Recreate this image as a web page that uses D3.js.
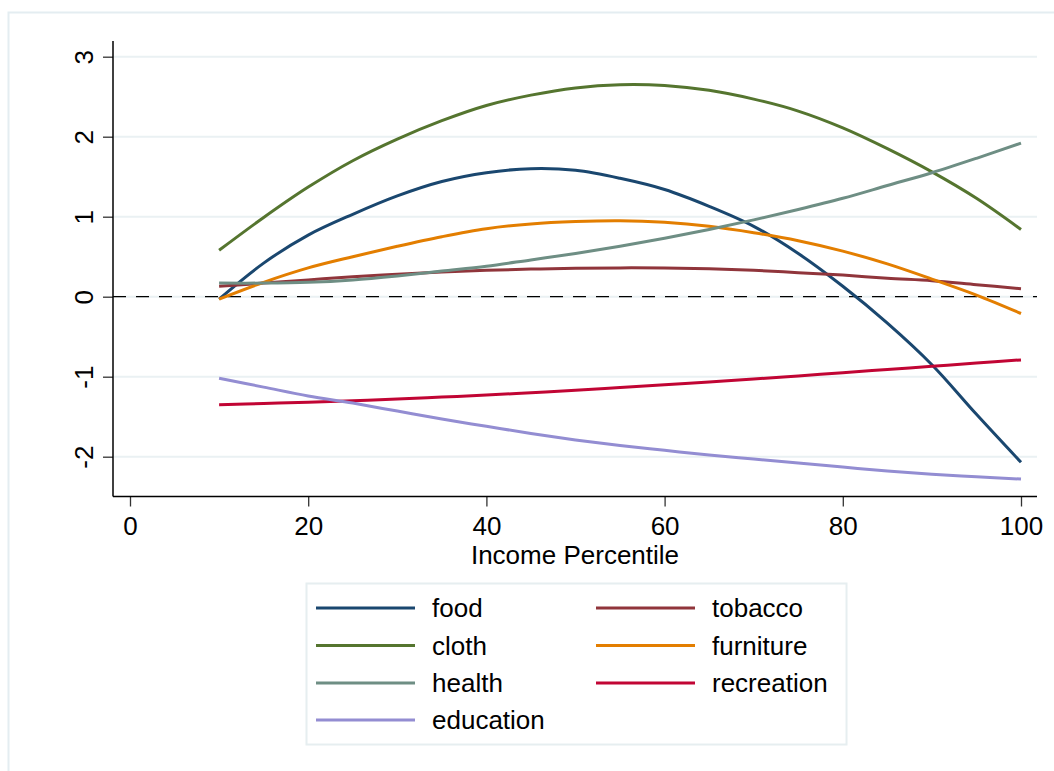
<!DOCTYPE html>
<html>
<head>
<meta charset="utf-8">
<script src="https://cdn.jsdelivr.net/npm/d3@7"></script>
<style>
  body { margin: 0; background: #fff; }
  svg { display: block; font-family: "Liberation Sans", Arial, sans-serif; }
</style>
</head>
<body>
<svg id="chart"></svg>
<script>
// income percentile grid
var pct = [10, 15, 20, 25, 30, 35, 40, 45, 50, 55, 60, 65, 70, 75, 80, 85, 90, 95, 100];

var food       = [-0.03, 0.42, 0.77, 1.03, 1.26, 1.44, 1.55, 1.60, 1.58, 1.48, 1.34, 1.13, 0.88, 0.54, 0.13, -0.33, -0.85, -1.47, -2.07];
var tobacco    = [0.13, 0.17, 0.21, 0.25, 0.28, 0.31, 0.33, 0.345, 0.355, 0.36, 0.36, 0.35, 0.33, 0.30, 0.27, 0.23, 0.20, 0.15, 0.10];
var cloth      = [0.58, 0.99, 1.37, 1.70, 1.97, 2.20, 2.39, 2.52, 2.61, 2.65, 2.64, 2.58, 2.47, 2.32, 2.11, 1.85, 1.56, 1.23, 0.84];
var furniture  = [-0.03, 0.18, 0.36, 0.50, 0.63, 0.75, 0.85, 0.91, 0.94, 0.95, 0.93, 0.88, 0.80, 0.70, 0.57, 0.41, 0.22, 0.02, -0.21];
var health     = [0.17, 0.17, 0.18, 0.21, 0.26, 0.32, 0.38, 0.46, 0.54, 0.63, 0.73, 0.84, 0.96, 1.09, 1.23, 1.39, 1.55, 1.73, 1.92];
var recreation = [-1.35, -1.335, -1.32, -1.30, -1.28, -1.255, -1.23, -1.20, -1.17, -1.135, -1.10, -1.065, -1.03, -0.99, -0.95, -0.91, -0.87, -0.83, -0.79];
var education  = [-1.02, -1.13, -1.24, -1.33, -1.43, -1.53, -1.62, -1.71, -1.79, -1.86, -1.92, -1.98, -2.03, -2.08, -2.13, -2.18, -2.22, -2.25, -2.28];

var seriesNames  = ["food", "tobacco", "cloth", "furniture", "health", "recreation", "education"];
var seriesValues = [food, tobacco, cloth, furniture, health, recreation, education];
var seriesColors = ["#1a476f", "#90353b", "#55752f", "#e37e00", "#6e8e84", "#c10534", "#938dd2"];

var xTicks = [0, 20, 40, 60, 80, 100];
var yTicks = [-2, -1, 0, 1, 2, 3];

var W = 1054, H = 771;
var svg = d3.select("#chart").attr("width", W).attr("height", H);

// outer frame (runs off the right/bottom edge like the source)
svg.append("rect")
  .attr("x", 8.5).attr("y", 12.5)
  .attr("width", W + 20).attr("height", H + 20)
  .attr("fill", "#fff")
  .attr("stroke", "#e4edf1")
  .attr("stroke-width", 2);

var plot = { left: 113, right: 1037, top: 41, bottom: 496.5 };

var x = d3.scaleLinear().domain([0, 100]).range([130, 1021]);
var y = d3.scaleLinear().domain([0, 3]).range([296.7, 56.7]);

// gridlines
svg.append("g")
  .selectAll("line")
  .data(yTicks)
  .join("line")
  .attr("x1", plot.left).attr("x2", plot.right)
  .attr("y1", d => y(d)).attr("y2", d => y(d))
  .attr("stroke", "#eaf1f3")
  .attr("stroke-width", 2);

// zero reference line
svg.append("line")
  .attr("x1", plot.left).attr("x2", plot.right)
  .attr("y1", y(0)).attr("y2", y(0))
  .attr("stroke", "#000")
  .attr("stroke-width", 1.2)
  .attr("stroke-dasharray", "13,10");

// series lines
var line = d3.line()
  .x((d, i) => x(pct[i]))
  .y(d => y(d))
  .curve(d3.curveCatmullRom.alpha(0.5));

svg.append("g")
  .selectAll("path")
  .data(seriesValues)
  .join("path")
  .attr("d", d => line(d))
  .attr("fill", "none")
  .attr("stroke", (d, i) => seriesColors[i])
  .attr("stroke-width", 3)
  .attr("stroke-linejoin", "round");

var fmt = d => String(d);

// axes
var xAxis = d3.axisBottom(x).tickValues(xTicks).tickFormat(fmt).tickSize(10).tickSizeOuter(0);
var gx = svg.append("g")
  .attr("transform", "translate(0," + plot.bottom + ")")
  .call(xAxis);
gx.select(".domain").remove();
gx.selectAll(".tick line").attr("stroke", "#333").attr("stroke-width", 1.3);
gx.selectAll(".tick text")
  .attr("font-size", 26)
  .attr("font-family", "Liberation Sans, Arial, sans-serif")
  .attr("fill", "#000")
  .attr("dy", null)
  .attr("y", 38);

var yAxis = d3.axisLeft(y).tickValues(yTicks).tickFormat(fmt).tickSize(10).tickSizeOuter(0);
var gy = svg.append("g")
  .attr("transform", "translate(" + plot.left + ",0)")
  .call(yAxis);
gy.select(".domain").remove();
gy.selectAll(".tick line").attr("stroke", "#333").attr("stroke-width", 1.3);
gy.selectAll(".tick text")
  .attr("font-size", 26)
  .attr("font-family", "Liberation Sans, Arial, sans-serif")
  .attr("fill", "#000")
  .attr("x", null).attr("dy", null)
  .attr("text-anchor", "middle")
  .attr("transform", "translate(-20,0) rotate(-90)");

// axis lines
svg.append("line")
  .attr("x1", plot.left).attr("x2", plot.left)
  .attr("y1", plot.top).attr("y2", plot.bottom)
  .attr("stroke", "#000").attr("stroke-width", 1.5);
svg.append("line")
  .attr("x1", plot.left).attr("x2", plot.right)
  .attr("y1", plot.bottom).attr("y2", plot.bottom)
  .attr("stroke", "#000").attr("stroke-width", 1.5);

// axis title
svg.append("text")
  .attr("x", (plot.left + plot.right) / 2)
  .attr("y", 564)
  .attr("text-anchor", "middle")
  .attr("font-size", 26)
  .text("Income Percentile");

// legend
var leg = svg.append("g");
leg.append("rect")
  .attr("x", 306.5).attr("y", 583.5)
  .attr("width", 540).attr("height", 161)
  .attr("fill", "#fff")
  .attr("stroke", "#e6eef0")
  .attr("stroke-width", 2);

var colX = [316, 596];
var rowY = [608, 645.5, 683, 720];
var item = leg.selectAll("g.item")
  .data(seriesNames)
  .join("g")
  .attr("class", "item")
  .attr("transform", (d, i) => "translate(" + colX[i % 2] + "," + rowY[Math.floor(i / 2)] + ")");
item.append("line")
  .attr("x1", 0).attr("x2", 99)
  .attr("stroke", (d, i) => seriesColors[i])
  .attr("stroke-width", 3);
item.append("text")
  .attr("x", 116).attr("y", 9)
  .attr("font-size", 26)
  .text(d => d);
</script>
</body>
</html>
